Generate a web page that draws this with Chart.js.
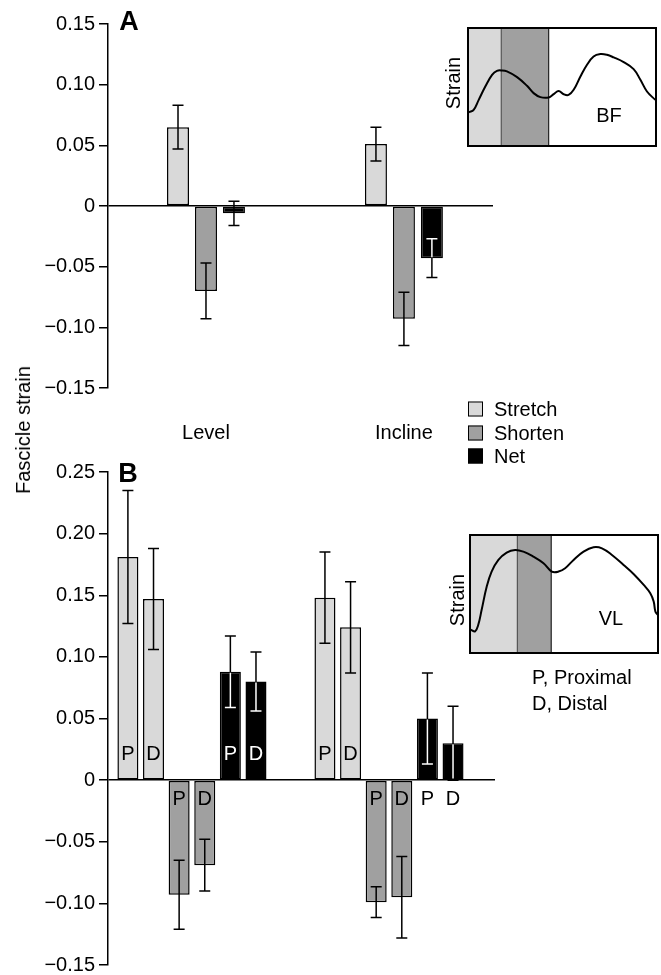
<!DOCTYPE html>
<html>
<head>
<meta charset="utf-8">
<script src="https://cdn.jsdelivr.net/npm/chart.js@4.4.0/dist/chart.umd.min.js"></script>
<style>
  html, body { margin: 0; padding: 0; background: #fff; overflow: hidden; }
  #wrap { position: relative; width: 661px; height: 975px; font-family: 'Liberation Sans', Arial, sans-serif; color: #000; }
  canvas { position: absolute; }
  .t { position: absolute; font-size: 20px; line-height: 1; white-space: nowrap; transform: translate(-50%, -50%); }
  .l { position: absolute; font-size: 20px; line-height: 1; white-space: nowrap; transform: translate(0, -50%); }
  .rot { transform: translate(-50%, -50%) rotate(-90deg); }
  .big { font-weight: bold; font-size: 27px; }
  .sw { position: absolute; width: 13px; height: 13px; border: 1.5px solid #000; transform: translate(0, -50%); }
</style>
</head>
<body>
<div id="wrap">
  <canvas id="chartA" width="520" height="450" style="left:0px;top:0px"></canvas>
  <canvas id="chartB" width="520" height="545" style="left:0px;top:440px"></canvas>
  <canvas id="insetBF" width="190" height="120" style="left:467px;top:27px"></canvas>
  <canvas id="insetVL" width="190" height="120" style="left:469px;top:534px"></canvas>

  <div class="t big" style="left:129px;top:21px">A</div>
  <div class="t big" style="left:128px;top:473px">B</div>
  <div class="t rot" style="left:23px;top:430px">Fascicle strain</div>
  <div id="legend"></div>

  <div class="t rot" style="left:453px;top:83px">Strain</div>
  <div class="t" style="left:609px;top:115px">BF</div>
  <div class="t rot" style="left:457px;top:600px">Strain</div>
  <div class="t" style="left:611px;top:618px">VL</div>
  <div class="l" style="left:532px;top:677px">P, Proximal</div>
  <div class="l" style="left:532px;top:703px">D, Distal</div>
</div>
<script>
// categories and series
var categories = ['Level', 'Incline'];
var seriesNames = ['Stretch', 'Shorten', 'Net'];
var seriesColors = ['#d9d9d9', '#a0a0a0', '#000000'];

// panel A (BF)
var aTicks = [-0.15, -0.10, -0.05, 0, 0.05, 0.10, 0.15];
var aStretch = [0.065, 0.051];
var aStretchErr = [0.018, 0.014];
var aShorten = [-0.070, -0.093];
var aShortenErr = [0.023, 0.022];
var aNet = [-0.006, -0.043];
var aNetErr = [0.010, 0.016];

// panel B (VL), proximal and distal
var bTicks = [-0.15, -0.10, -0.05, 0, 0.05, 0.10, 0.15, 0.20, 0.25];
var bStretchP = [0.181, 0.148];
var bStretchPErr = [0.054, 0.037];
var bStretchD = [0.147, 0.124];
var bStretchDErr = [0.041, 0.037];
var bShortenP = [-0.093, -0.099];
var bShortenPErr = [0.028, 0.0125];
var bShortenD = [-0.069, -0.095];
var bShortenDErr = [0.021, 0.033];
var bNetP = [0.088, 0.050];
var bNetPErr = [0.029, 0.037];
var bNetD = [0.080, 0.030];
var bNetDErr = [0.024, 0.030];

// inset traces (time %, relative strain)
var bfX = [0.5, 3.0, 5.7, 9.2, 12.8, 15.4, 18.1, 20.7, 26.1, 31.4, 34.9, 38.5, 42.9, 45.6, 48.2, 50.9, 53.5, 56.2, 59.8, 63.3, 66.8, 70.4, 73.9, 77.5, 82.8, 88.1, 91.7, 95.2, 99.6];
var bfY = [0.286, 0.306, 0.391, 0.504, 0.603, 0.637, 0.640, 0.632, 0.584, 0.510, 0.448, 0.414, 0.411, 0.439, 0.467, 0.439, 0.433, 0.476, 0.589, 0.688, 0.759, 0.779, 0.773, 0.751, 0.711, 0.652, 0.561, 0.462, 0.391];
var bfPhases = [0, 17.7, 42.9];
var vlX = [0.4, 2.7, 4.4, 6.2, 8.9, 11.5, 15.1, 19.5, 24.0, 28.4, 33.7, 39.1, 43.5, 47.1, 50.6, 55.1, 60.4, 65.7, 70.2, 75.5, 81.7, 87.0, 92.4, 95.9, 97.7, 98.6, 99.8];
var vlY = [0.197, 0.183, 0.239, 0.366, 0.563, 0.690, 0.789, 0.851, 0.873, 0.859, 0.817, 0.761, 0.690, 0.690, 0.718, 0.789, 0.859, 0.896, 0.887, 0.831, 0.746, 0.670, 0.577, 0.507, 0.437, 0.352, 0.324];
var vlPhases = [0, 25.2, 43.2];

Chart.defaults.font.family = "'Liberation Sans', Arial, sans-serif";
Chart.defaults.font.size = 20;
Chart.defaults.color = '#000';

function pts(vals) {
  return vals.map(function(v, i) { return { x: i, y: v }; });
}

function tickLabel(v) {
  if (v === 0) return '0';
  return (v < 0 ? '\u2212' : '') + Math.abs(v).toFixed(2);
}

function barSet(name, vals, errs, color, tag) {
  return {
    label: name, data: pts(vals), errors: errs, tag: tag,
    invertErr: color === '#000000',
    backgroundColor: color, borderColor: '#000', borderWidth: 1.5, borderSkipped: false
  };
}

function zeroOnly(c) {
  return c.tick && c.tick.value === 0 ? '#000' : 'rgba(0,0,0,0)';
}

function catTicks(scale) {
  scale.ticks = categories.map(function(c, i) { return { value: i }; });
}

var errorBars = {
  id: 'errorBars',
  afterDatasetsDraw: function(chart) {
    var ctx = chart.ctx, y = chart.scales.y;
    chart.data.datasets.forEach(function(ds, di) {
      chart.getDatasetMeta(di).data.forEach(function(bar, i) {
        var v = ds.data[i].y, e = ds.errors[i];
        var top = y.getPixelForValue(v + e), bot = y.getPixelForValue(v - e);
        var x = bar.x, cap = 5.5;
        function draw(color) {
          ctx.strokeStyle = color;
          ctx.lineWidth = 1.5;
          ctx.beginPath();
          ctx.moveTo(x, top); ctx.lineTo(x, bot);
          ctx.moveTo(x - cap, top); ctx.lineTo(x + cap, top);
          ctx.moveTo(x - cap, bot); ctx.lineTo(x + cap, bot);
          ctx.stroke();
        }
        ctx.save();
        draw('#000');
        ctx.restore();
        var y0 = Math.min(bar.y, bar.base), y1 = Math.max(bar.y, bar.base);
        // white whisker where it runs over a black bar (not on tiny bars)
        if (ds.invertErr && y1 - y0 > 12) {
          ctx.save();
          ctx.beginPath();
          ctx.rect(x - bar.width / 2 + 1, y0 + 1, bar.width - 2, y1 - y0 - 2);
          ctx.clip();
          draw('#fff');
          ctx.restore();
        }
      });
    });
  }
};

var barTags = {
  id: 'barTags',
  afterDatasetsDraw: function(chart) {
    var ctx = chart.ctx, y = chart.scales.y, zero = y.getPixelForValue(0);
    ctx.save();
    ctx.font = "20px 'Liberation Sans', Arial, sans-serif";
    ctx.textAlign = 'center';
    ctx.textBaseline = 'middle';
    chart.data.datasets.forEach(function(ds, di) {
      if (!ds.tag) return;
      chart.getDatasetMeta(di).data.forEach(function(bar, i) {
        var v = ds.data[i].y, e = ds.errors[i];
        var inner = Math.abs(zero - y.getPixelForValue(v - Math.sign(v) * e));
        var h = Math.abs(zero - bar.y);
        var inside = h > 42 && inner > 42;
        var up = (v > 0) === inside;
        ctx.fillStyle = inside && ds.invertErr ? '#fff' : '#000';
        ctx.fillText(ds.tag, bar.x, up ? zero - 26 : zero + 19);
      });
    });
    ctx.restore();
  }
};

function yAxis(ticks, lo, hi) {
  return {
    min: lo, max: hi,
    afterBuildTicks: function(s) { s.ticks = ticks.map(function(v) { return { value: v }; }); },
    afterFit: function(s) { s.width = 108; },
    border: { display: true, color: '#000', width: 1.5 },
    grid: { color: zeroOnly, lineWidth: 1.5, tickColor: '#000', tickLength: 9, tickWidth: 1.5 },
    ticks: { padding: 4, callback: function(v) { return tickLabel(v); } }
  };
}

// panel A
new Chart(document.getElementById('chartA'), {
  type: 'bar',
  data: {
    datasets: [
      barSet('Stretch', aStretch, aStretchErr, seriesColors[0]),
      barSet('Shorten', aShorten, aShortenErr, seriesColors[1]),
      barSet('Net', aNet, aNetErr, seriesColors[2])
    ]
  },
  options: {
    responsive: false, animation: false,
    layout: { padding: { top: 24, right: 27, bottom: 0, left: 0 } },
    datasets: { bar: { categoryPercentage: 0.424, barPercentage: 0.786 } },
    plugins: { legend: { display: false }, tooltip: { enabled: false } },
    scales: {
      x: {
        type: 'linear', min: -0.495, max: 1.45, offset: false,
        afterBuildTicks: catTicks,
        afterFit: function(s) { s.height = 62; },
        grid: { display: false, drawTicks: false, offset: false },
        border: { display: false },
        ticks: { padding: 33, maxRotation: 0, autoSkip: false, callback: function(v) { return categories[v]; } }
      },
      y: yAxis(aTicks, -0.15, 0.15)
    }
  },
  plugins: [errorBars]
});

// panel B
new Chart(document.getElementById('chartB'), {
  type: 'bar',
  data: {
    datasets: [
      barSet('Stretch P', bStretchP, bStretchPErr, seriesColors[0], 'P'),
      barSet('Stretch D', bStretchD, bStretchDErr, seriesColors[0], 'D'),
      barSet('Shorten P', bShortenP, bShortenPErr, seriesColors[1], 'P'),
      barSet('Shorten D', bShortenD, bShortenDErr, seriesColors[1], 'D'),
      barSet('Net P', bNetP, bNetPErr, seriesColors[2], 'P'),
      barSet('Net D', bNetD, bNetDErr, seriesColors[2], 'D')
    ]
  },
  options: {
    responsive: false, animation: false,
    layout: { padding: { top: 32, right: 25, bottom: 20, left: 0 } },
    datasets: { bar: { categoryPercentage: 0.78, barPercentage: 0.82 } },
    plugins: { legend: { display: false }, tooltip: { enabled: false } },
    scales: {
      x: {
        type: 'linear', min: -0.426, max: 1.538, offset: false,
        afterBuildTicks: catTicks,
        afterFit: function(s) { s.height = 0; },
        grid: { display: false, drawTicks: false, offset: false },
        border: { display: false },
        ticks: { display: false }
      },
      y: yAxis(bTicks, -0.15, 0.25)
    }
  },
  plugins: [errorBars, barTags]
});

// insets
function insetChart(id, xs, ys, phases) {
  var shade = {
    id: 'phaseShade',
    beforeDatasetsDraw: function(chart) {
      var ctx = chart.ctx, a = chart.chartArea, x = chart.scales.x;
      var p0 = x.getPixelForValue(phases[0]), p1 = x.getPixelForValue(phases[1]), p2 = x.getPixelForValue(phases[2]);
      ctx.save();
      ctx.fillStyle = seriesColors[0];
      ctx.fillRect(p0, a.top, p1 - p0, a.bottom - a.top);
      ctx.fillStyle = seriesColors[1];
      ctx.fillRect(p1, a.top, p2 - p1, a.bottom - a.top);
      ctx.lineWidth = 1.2;
      ctx.strokeStyle = '#555';
      ctx.beginPath(); ctx.moveTo(p1, a.top); ctx.lineTo(p1, a.bottom); ctx.stroke();
      ctx.strokeStyle = '#222';
      ctx.beginPath(); ctx.moveTo(p2, a.top); ctx.lineTo(p2, a.bottom); ctx.stroke();
      ctx.restore();
    },
    afterDatasetsDraw: function(chart) {
      var ctx = chart.ctx, a = chart.chartArea;
      ctx.save();
      ctx.strokeStyle = '#000';
      ctx.lineWidth = 2;
      ctx.strokeRect(a.left, a.top, a.right - a.left, a.bottom - a.top);
      ctx.restore();
    }
  };
  return new Chart(document.getElementById(id), {
    type: 'line',
    data: {
      datasets: [{
        data: xs.map(function(x, i) { return { x: x, y: ys[i] }; }),
        borderColor: '#000', borderWidth: 2, pointRadius: 0, tension: 0.4, fill: false
      }]
    },
    options: {
      responsive: false, animation: false,
      layout: { padding: 1 },
      plugins: { legend: { display: false }, tooltip: { enabled: false } },
      scales: {
        x: { type: 'linear', min: 0, max: 100, display: false },
        y: { min: 0, max: 1, display: false }
      }
    },
    plugins: [shade]
  });
}
insetChart('insetBF', bfX, bfY, bfPhases);
insetChart('insetVL', vlX, vlY, vlPhases);

// legend
var legendTops = [409, 433, 456];
var legend = document.getElementById('legend');
seriesNames.forEach(function(name, i) {
  var sw = document.createElement('div');
  sw.className = 'sw';
  sw.style.left = '468px';
  sw.style.top = legendTops[i] + 'px';
  sw.style.background = seriesColors[i];
  legend.appendChild(sw);
  var tx = document.createElement('div');
  tx.className = 'l';
  tx.style.left = '494px';
  tx.style.top = legendTops[i] + 'px';
  tx.textContent = name;
  legend.appendChild(tx);
});
</script>
</body>
</html>
